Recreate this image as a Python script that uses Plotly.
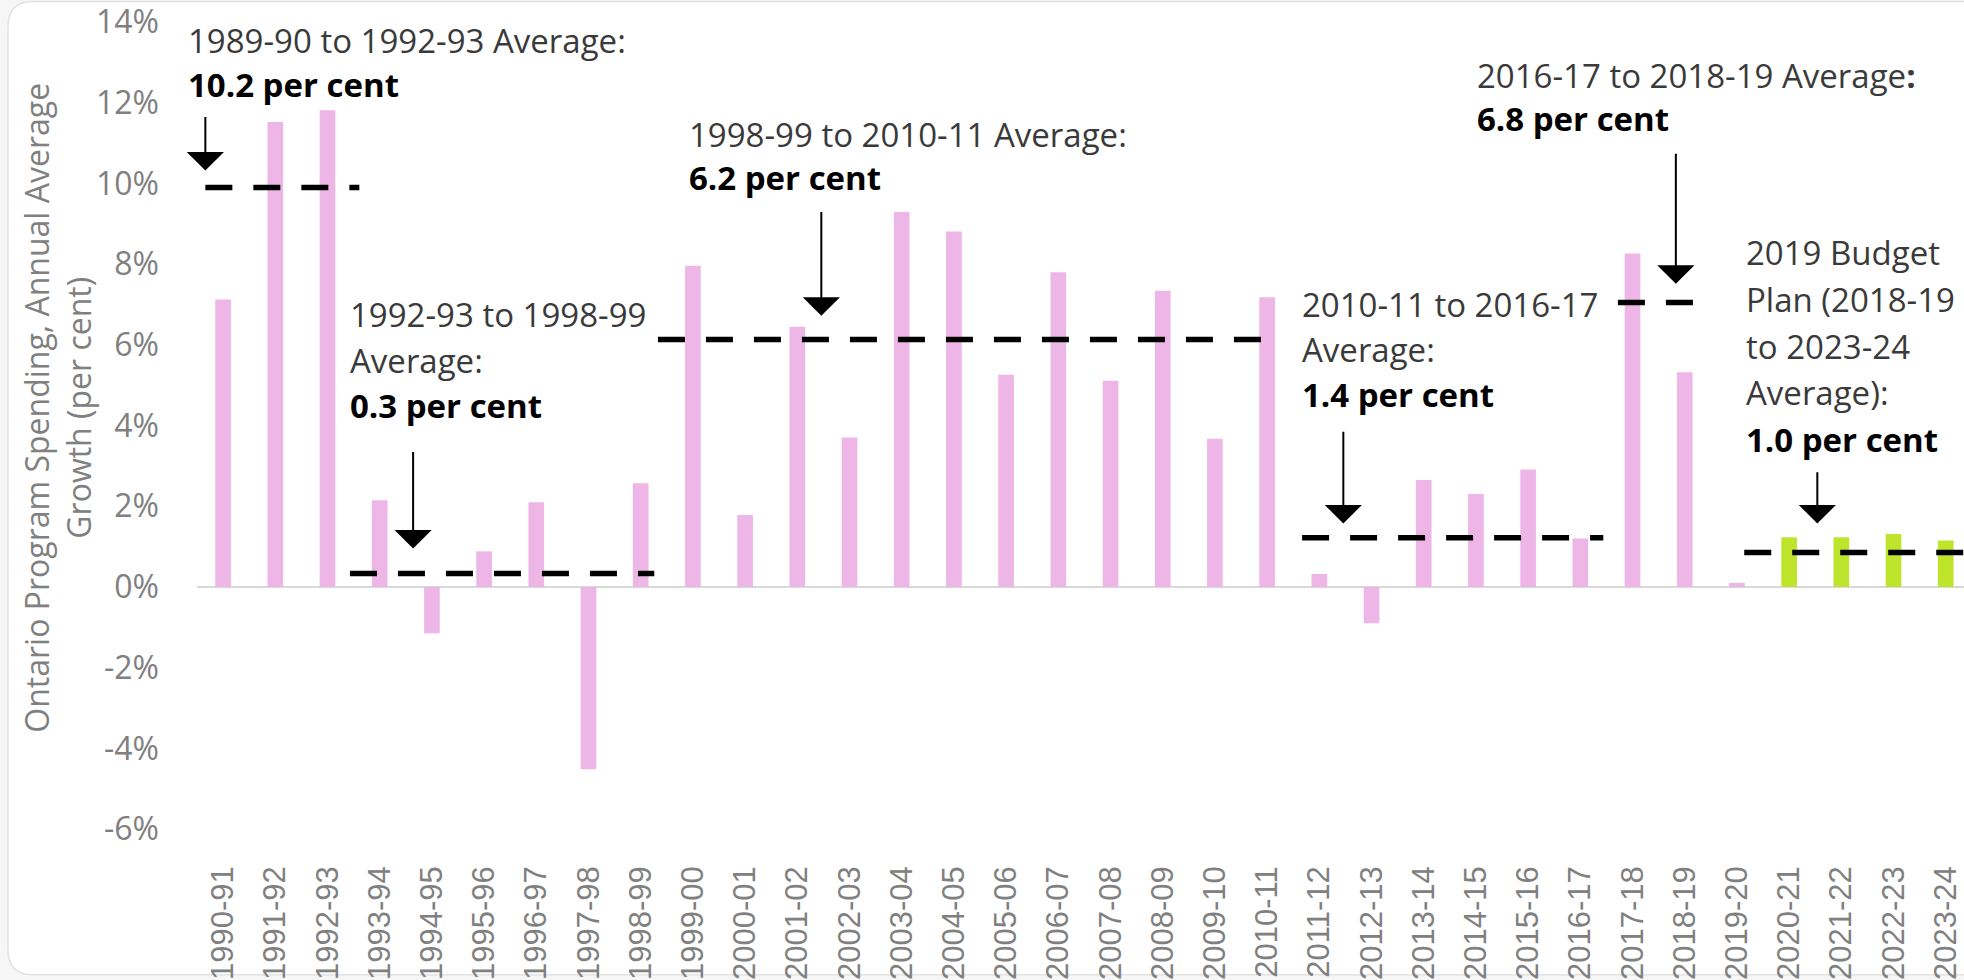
import plotly.graph_objects as go

# ---------------- data ----------------
years = ["1990-91", "1991-92", "1992-93", "1993-94", "1994-95", "1995-96", "1996-97",
         "1997-98", "1998-99", "1999-00", "2000-01", "2001-02", "2002-03", "2003-04",
         "2004-05", "2005-06", "2006-07", "2007-08", "2008-09", "2009-10", "2010-11",
         "2011-12", "2012-13", "2013-14", "2014-15", "2015-16", "2016-17", "2017-18",
         "2018-19", "2019-20", "2020-21", "2021-22", "2022-23", "2023-24"]
growth = [7.12, 11.52, 11.81, 2.15, -1.15, 0.88, 2.10, -4.52, 2.57, 7.96,
          1.78, 6.45, 3.70, 9.29, 8.81, 5.26, 7.80, 5.11, 7.34, 3.67,
          7.18, 0.32, -0.90, 2.65, 2.30, 2.91, 1.20, 8.26, 5.32, 0.10,
          1.23, 1.23, 1.31, 1.15]
is_plan = [False] * 30 + [True] * 4

# period averages (dashed lines): start/end category position and drawn level
avg_start = [-0.34, 2.43, 8.33, 20.67, 26.72, 29.14]
avg_end = [2.61, 8.26, 19.96, 26.44, 28.20, 33.60]
avg_level = [9.90, 0.33, 6.13, 1.22, 7.05, 0.85]

# annotation texts
label_lines = [
    ["1989-90 to 1992-93 Average:", "<b>10.2 per cent</b>"],
    ["1992-93 to 1998-99", "Average:", "<b>0.3 per cent</b>"],
    ["1998-99 to 2010-11 Average:", "<b>6.2 per cent</b>"],
    ["2010-11 to 2016-17", "Average:", "<b>1.4 per cent</b>"],
    ["2016-17 to 2018-19 Average<b>:</b>", "<b>6.8 per cent</b>"],
    ["2019 Budget", "Plan (2018-19", "to 2023-24", "Average):", "<b>1.0 per cent</b>"],
]
label_x = [-0.71, 2.39, 8.89, 20.63, 23.98, 29.13]
label_y = [13.54, 6.74, 11.21, 7.00, 12.68, 8.29]
label_step = [1.09, 1.12, 1.07, 1.12, 1.06, 1.16]

arrow_x = [-0.34, 3.64, 11.46, 21.46, 27.83, 30.54]
arrow_tail = [11.68, 3.38, 9.33, 3.88, 10.77, 2.88]
arrow_head = [10.32, 0.95, 6.72, 1.57, 7.51, 1.57]

y_tickvals = [-6, -4, -2, 0, 2, 4, 6, 8, 10, 12, 14]
y_ticktext = ["-6%", "-4%", "-2%", "0%", "2%", "4%", "6%", "8%", "10%", "12%", "14%"]

PINK = "#EEB6E7"
GREEN = "#BFE42C"
FONT = "Open Sans"
X_RANGE = [-0.5, 33.35]


def cat_to_paper(v):
    return (v - X_RANGE[0]) / (X_RANGE[1] - X_RANGE[0])


# ---------------- figure ----------------
fig = go.Figure()
idx = list(range(len(years)))
fig.add_trace(go.Bar(
    x=[i for i in idx if not is_plan[i]],
    y=[growth[i] for i in idx if not is_plan[i]],
    marker=dict(color=PINK, line=dict(width=0)),
    width=0.30, showlegend=False, hoverinfo="skip"))
fig.add_trace(go.Bar(
    x=[i for i in idx if is_plan[i]],
    y=[growth[i] for i in idx if is_plan[i]],
    marker=dict(color=GREEN, line=dict(width=0)),
    width=0.30, showlegend=False, hoverinfo="skip"))

for s, e, v in zip(avg_start, avg_end, avg_level):
    fig.add_trace(go.Scatter(
        x=[s, e], y=[v, v], mode="lines",
        line=dict(color="black", width=5.5, dash="27px,21px"),
        showlegend=False, hoverinfo="skip", cliponaxis=False))

annotations = []
for lines, lx, ly, st in zip(label_lines, label_x, label_y, label_step):
    for k, t in enumerate(lines):
        bold = t.startswith("<b>")
        annotations.append(dict(
            x=cat_to_paper(lx), y=ly - k * st, xref="paper", yref="y",
            text=t, showarrow=False, xanchor="left", yanchor="middle",
            font=dict(family=FONT, size=33, color="#000000" if bold else "#3a3a3a")))

for ax_, yt, yh in zip(arrow_x, arrow_tail, arrow_head):
    annotations.append(dict(
        x=ax_, y=yh, ax=ax_, ay=yt, xref="x", yref="y", axref="x", ayref="y",
        text="", showarrow=True, arrowhead=1, arrowsize=3.1, arrowwidth=2,
        arrowcolor="black", standoff=0))

annotations.append(dict(
    x=-0.0787, y=0.522, xref="paper", yref="paper",
    text="Ontario Program Spending, Annual Average<br>Growth (per cent)",
    textangle=-90, showarrow=False, xanchor="center", yanchor="middle",
    font=dict(family=FONT, size=32, color="#808080")))

# card background with rounded corners (paper coordinates)
L, R, T, B = -0.10696, 1.0204, 1.02541, -0.18074
rx, ry = 0.01415, 0.03099
card = (f"M{L+rx},{T} L{R},{T} L{R},{B} L{L+rx},{B} Q{L},{B} {L},{B+ry} "
        f"L{L},{T-ry} Q{L},{T} {L+rx},{T} Z")

fig.update_layout(
    width=1964, height=980,
    margin=dict(l=197, r=0, t=22, b=151),
    paper_bgcolor="#f6f6f6", plot_bgcolor="rgba(0,0,0,0)",
    barmode="overlay",
    shapes=[dict(type="path", path=card, xref="paper", yref="paper",
                 fillcolor="white", line=dict(color="#e2e2e2", width=1.5),
                 layer="below")],
    annotations=annotations,
    xaxis=dict(range=X_RANGE, tickmode="array", tickvals=idx, ticktext=years,
               tickangle=-90, showgrid=False, zeroline=False, showline=False,
               ticks="", ticklabelstandoff=30, ticklabeloverflow="allow",
               tickfont=dict(family="Liberation Sans", size=31, color="#808080")),
    yaxis=dict(range=[-6, 14], tickmode="array", tickvals=y_tickvals, ticktext=y_ticktext,
               showgrid=False, zeroline=True, zerolinecolor="#d9d9d9", zerolinewidth=2,
               showline=False, ticks="", ticklabelstandoff=37, ticklabeloverflow="allow",
               tickfont=dict(family=FONT, size=32, color="#808080")),
)

fig.write_html("out.html")
